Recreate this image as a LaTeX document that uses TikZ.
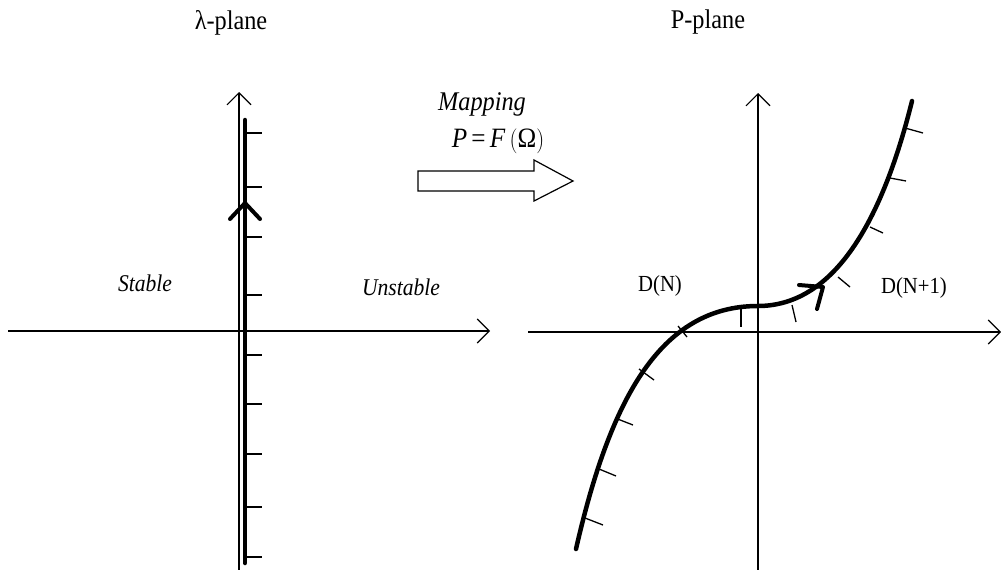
\documentclass[tikz,border=0pt]{standalone}
\usepackage{graphicx}
\usepackage{fontspec}
\setmainfont{Liberation Serif}
\usetikzlibrary{arrows.meta}
\newcommand{\cnd}[1]{\scalebox{0.9}[1]{#1}}
\begin{document}
\begin{tikzpicture}[x=1pt,y=-1pt,
  axis/.style={line width=1.1pt,-{Straight Barb[length=12pt,width=24pt,line width=1.1pt]}},
  heavy/.style={line width=4.5pt,line cap=round,line join=round},
  tick/.style={line width=1.3pt},
  title/.style={font=\fontsize{27}{32}\selectfont,inner sep=0pt,anchor=base},
  lbl/.style={font=\fontsize{23}{27}\selectfont,inner sep=0pt,anchor=base},
  ilbl/.style={font=\fontsize{24}{28}\selectfont\itshape,inner sep=0pt,anchor=base}]
\useasboundingbox (0,0) rectangle (1001,570);
% ---------- left panel ----------
\coordinate (lyb) at (239,570);
\coordinate (lyt) at (239,92);
\coordinate (lxl) at (8,331);
\coordinate (lxr) at (490,331);
\draw[axis] (lxl) -- (lxr);
\draw[axis] (lyb) -- (lyt);
\coordinate (lb) at (245,563);
\coordinate (lt) at (245,120);
\draw[heavy] (lb) -- (lt);
\draw[heavy,line width=4pt] (230,219) -- (245,203) -- (260,219);
\foreach \y in {133,187,237,295,355,404,454,507,557}
  \draw[tick] (247,\y) -- (262,\y);
\node[ilbl] (stable) at (145,291) {\cnd{Stable}};
\node[ilbl] (unstable) at (401,295) {\cnd{Unstable}};
\node[title] (lplane) at (231,29) {\cnd{λ-plane}};
% ---------- mapping ----------
\node[font=\fontsize{27}{32}\selectfont\itshape,inner sep=0pt,anchor=base] (map) at (482,110) {\cnd{Mapping}};
\node[font=\fontsize{28}{32}\selectfont,inner sep=0pt,anchor=base] (formula) at (498,147)
  {\cnd{\textit{P}\,=\,\textit{F}\,$\Bigl($Ω$\Bigr)$}};
\draw[line width=1.2pt,line join=miter] (418,171) -- (534,171) -- (534,160) -- (573,181)
  -- (534,201) -- (534,191) -- (418,191) -- cycle;
% ---------- right panel ----------
\coordinate (ryb) at (758,570);
\coordinate (ryt) at (758,93);
\coordinate (rxl) at (528,332);
\coordinate (rxr) at (1001,332);
\draw[axis] (rxl) -- (rxr);
\draw[axis] (ryb) -- (ryt);
\node[title] (pplane) at (708,28) {\cnd{P-plane}};
\node[lbl] (dn) at (660,291) {\cnd{D(N)}};
\node[lbl] (dn1) at (914,293) {\cnd{D(N+1)}};
\draw[heavy] (576,549) .. controls (610,400) and (660,306) .. (758,306)
  .. controls (830,306) and (880,230) .. (912,101);
\draw[heavy,line width=4pt] (799,285) -- (823,287) -- (817,309);
\draw[tick] (585,518) -- (603,525);
\draw[tick] (599,469) -- (616,476);
\draw[tick] (615,418) -- (633,425);
\draw[tick] (639,369) -- (654,380);
\draw[tick] (678,326) -- (687,337);
\draw[tick] (741,308) -- (741,327);
\draw[tick] (792,305) -- (796,322);
\draw[tick] (838,277) -- (850,287);
\draw[tick] (870,227) -- (883,233);
\draw[tick] (890,178) -- (906,181);
\draw[tick] (905,128) -- (923,133);
\end{tikzpicture}
\end{document}
